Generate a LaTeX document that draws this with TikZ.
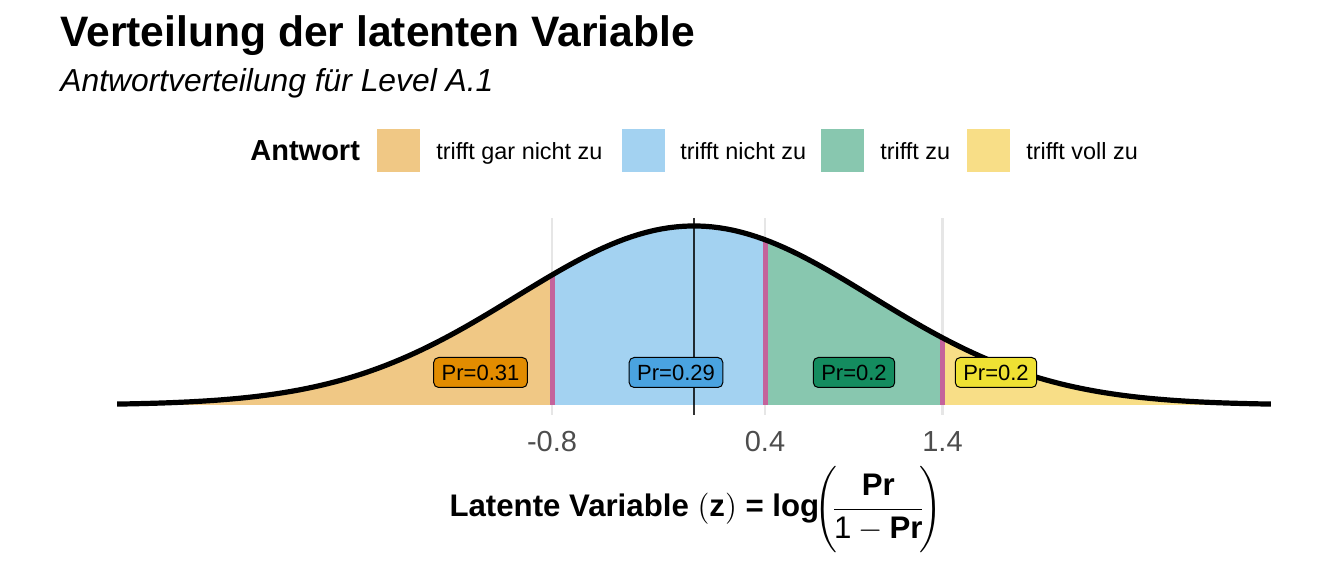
\documentclass[tikz,border=0pt]{standalone}
\usepackage{fix-cm}
\usepackage{amsmath}
\usepackage{fontspec}
\setmainfont{Liberation Sans}
\usepackage{tikz}

\definecolor{fillA}{RGB}{240,200,133}
\definecolor{fillB}{RGB}{163,210,241}
\definecolor{fillC}{RGB}{136,199,175}
\definecolor{fillD}{RGB}{248,222,135}
\definecolor{labA}{RGB}{226,140,0}
\definecolor{labB}{RGB}{74,163,224}
\definecolor{labC}{RGB}{20,140,95}
\definecolor{labD}{RGB}{239,225,51}
\definecolor{cutcol}{RGB}{196,99,155}
\definecolor{gridcol}{RGB}{230,230,230}
\definecolor{tickcol}{RGB}{77,77,77}

\tikzset{
	prlabel/.style={draw=black, line width=0.5pt, rounded corners=2.5pt, inner xsep=4pt, inner ysep=0pt, minimum height=15pt, font=\fontsize{11}{13}\selectfont},
	legbox/.style={minimum size=21.5pt, inner sep=0pt},
	legtext/.style={anchor=base west, inner sep=0pt, font=\fontsize{11.7}{14}\selectfont},
	ticklabel/.style={anchor=base, inner sep=0pt, text=tickcol, font=\fontsize{14.5}{17}\selectfont},
	cutline/.style={cutcol, line width=2.5pt},
	gridline/.style={gridcol, line width=1.4pt},
	density/.style={line width=2.6pt, line join=round},
}

\begin{document}
\begin{tikzpicture}[x=0.5pt, y=-0.5pt]
	\useasboundingbox (0,0) rectangle (1344,576);
	
	\node[anchor=base west, inner sep=0pt, font=\fontsize{21.3}{25}\selectfont\bfseries] (title) at (60,47) {Verteilung der latenten Variable};
	\node[anchor=base west, inner sep=0pt, font=\fontsize{15.9}{19}\selectfont\itshape] (subtitle) at (60,92) {Antwortverteilung für Level A.1};
	
	\node[anchor=base west, inner sep=0pt, font=\fontsize{14.5}{17}\selectfont\bfseries] (legtitle) at (250,161) {Antwort};
	\node[legbox, fill=fillA] (keyA) at (398.5,150.5) {};
	\node[legtext] (legA) at (436,159.5) {trifft gar nicht zu};
	\node[legbox, fill=fillB] (keyB) at (643.5,150.5) {};
	\node[legtext] (legB) at (680,159.5) {trifft nicht zu};
	\node[legbox, fill=fillC] (keyC) at (842.5,150.5) {};
	\node[legtext] (legC) at (880,159.5) {trifft zu};
	\node[legbox, fill=fillD] (keyD) at (988.5,150.5) {};
	\node[legtext] (legD) at (1026,159.5) {trifft voll zu};
	
	\foreach \t in {-0.8,0.4,1.4}
		\draw[gridline] ({694+177.5*\t},218) -- ({694+177.5*\t},415);
	
	\fill[fillA] (117,405) -- plot[domain=-3.25:-0.8, samples=60] ({694+177.5*\x},{405-179*exp(-0.5*(\x)*(\x))}) -- (552,405) -- cycle;
	\fill[fillB] (552,405) -- plot[domain=-0.8:0.4, samples=40] ({694+177.5*\x},{405-179*exp(-0.5*(\x)*(\x))}) -- (765,405) -- cycle;
	\fill[fillC] (765,405) -- plot[domain=0.4:1.4, samples=40] ({694+177.5*\x},{405-179*exp(-0.5*(\x)*(\x))}) -- (942.5,405) -- cycle;
	\fill[fillD] (942.5,405) -- plot[domain=1.4:3.25, samples=60] ({694+177.5*\x},{405-179*exp(-0.5*(\x)*(\x))}) -- (1271,405) -- cycle;
	
	\foreach \t in {-0.8,0.4,1.4}
		\draw[cutline] ({694+177.5*\t},405) -- ({694+177.5*\t},{405-179*exp(-0.5*(\t)*(\t))});
	
	\draw[density] plot[domain=-3.25:3.25, samples=160] ({694+177.5*\x},{405-179*exp(-0.5*(\x)*(\x))});
	\draw[black, opacity=0.8, line width=1.3pt] (694,218) -- (694,415);
	
	\node[prlabel, fill=labA] (prA) at (480.5,372.5) {Pr=0.31};
	\node[prlabel, fill=labB] (prB) at (676,372.5) {Pr=0.29};
	\node[prlabel, fill=labC] (prC) at (854,372.5) {Pr=0.2};
	\node[prlabel, fill=labD] (prD) at (996,372.5) {Pr=0.2};
	
	\node[ticklabel] (tickA) at (552,452) {-0.8};
	\node[ticklabel] (tickB) at (765,452) {0.4};
	\node[ticklabel] (tickC) at (942.5,452) {1.4};
	
	\node[anchor=base, inner sep=0pt, font=\fontsize{15.6}{19}\selectfont] (xlab) at (696,517) {\textbf{Latente Variable} $(\text{\textbf{z}})$ \textbf{= log}$\!\Biggl(\!\dfrac{\text{\textbf{Pr}}}{\text{1}-\text{\textbf{Pr}}}\!\Biggr)$};
	
\end{tikzpicture}
\end{document}
